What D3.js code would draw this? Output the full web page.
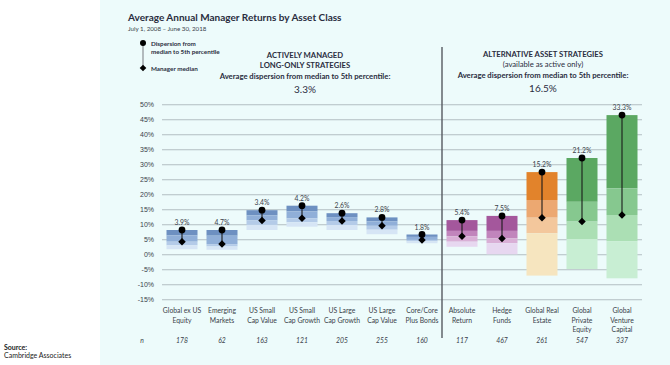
<!DOCTYPE html>
<html lang="en">
<head>
<meta charset="utf-8">
<title>Average Annual Manager Returns by Asset Class</title>
<script src="https://cdnjs.cloudflare.com/ajax/libs/d3/7.8.5/d3.min.js"></script>
<style>
  html, body { margin: 0; padding: 0; background: #ffffff; }
  svg { display: block; font-family: "Lato", sans-serif; }
  .tick text { font-size: 7px; fill: #3a3f4a; }
  .tick line { stroke: #b2bec2; stroke-width: 1.1; }
</style>
</head>
<body>
<div id="chart"></div>
<script>
// ---------------------------------------------------------------
// data (values in %)
// ---------------------------------------------------------------
const categories = [
  "Global ex US Equity", "Emerging Markets", "US Small Cap Value",
  "US Small Cap Growth", "US Large Cap Growth", "US Large Cap Value",
  "Core/Core Plus Bonds", "Absolute Return", "Hedge Funds",
  "Global Real Estate", "Global Private Equity", "Global Venture Capital"
];
const categoryLines = [
  ["Global ex US", "Equity"], ["Emerging", "Markets"], ["US Small", "Cap Value"],
  ["US Small", "Cap Growth"], ["US Large", "Cap Growth"], ["US Large", "Cap Value"],
  ["Core/Core", "Plus Bonds"], ["Absolute", "Return"], ["Hedge", "Funds"],
  ["Global Real", "Estate"], ["Global", "Private", "Equity"], ["Global", "Venture", "Capital"]
];
const groups = ["blue", "blue", "blue", "blue", "blue", "blue", "blue",
                "purple", "purple", "orange", "green", "green"];
const nCounts = [178, 62, 163, 121, 205, 255, 160, 117, 467, 261, 547, 337];

// dispersion from median to 5th percentile
const dispersion = [3.9, 4.7, 3.4, 4.2, 2.6, 2.8, 1.8, 5.4, 7.5, 15.2, 21.2, 33.3];
const pct5  = [8.1, 8.1, 14.7, 16.2, 13.7, 12.3, 6.6, 11.4, 12.8, 27.4, 32.1, 46.4];
const pct25 = [6.3, 6.2, 13.0, 14.3, 12.4, 11.0, 5.8, 7.8, 7.8, 18.1, 17.5, 22.0];
const median = [4.2, 3.4, 11.3, 12.0, 11.1, 9.5, 4.8, 6.0, 5.3, 12.2, 10.9, 13.1];
const pct75 = [3.0, 2.6, 9.8, 10.7, 9.7, 8.2, 4.3, 4.2, 3.7, 7.0, 5.1, 4.4];
const pct95 = [1.7, 1.5, 8.1, 9.2, 8.1, 6.7, 3.7, 2.5, 0.0, -7.1, -4.9, -8.0];

const yTicks = [-15, -10, -5, 0, 5, 10, 15, 20, 25, 30, 35, 40, 45, 50];

const palette = {
  blue:   ["#6d90c1", "#90afd8", "#b4cbe8", "#d6e5f5"],
  purple: ["#a4579c", "#c185bc", "#d9afd6", "#e7d7f0"],
  orange: ["#e2832b", "#eca871", "#f3c79c", "#f6e5bf"],
  green:  ["#5ba862", "#86c88f", "#abdfb4", "#c8eed3"]
};

// ---------------------------------------------------------------
// setup
// ---------------------------------------------------------------
const W = 670, H = 365;
const svg = d3.select("#chart").append("svg")
  .attr("width", W).attr("height", H);

// light panel behind the chart
svg.append("rect")
  .attr("x", 100).attr("y", 0)
  .attr("width", W - 100).attr("height", H)
  .attr("fill", "#edfbfb");

const x = d3.scaleBand()
  .domain(categories)
  .range([162, 642])
  .paddingInner(0.225)
  .paddingOuter(0.1125);

const y = d3.scaleLinear()
  .domain([-15, 50])
  .range([299.3, 104.3]);

// y axis + grid
const yAxis = svg.append("g")
  .attr("transform", "translate(162,0)")
  .call(d3.axisLeft(y)
    .tickValues(yTicks)
    .tickSize(-(642 - 162))
    .tickPadding(8)
    .tickFormat(d => d + "%"));
yAxis.select(".domain").remove();

// divider between the two groups
const divX = x(categories[7]) - (x.step() - x.bandwidth()) / 2;
svg.append("line")
  .attr("x1", divX).attr("x2", divX)
  .attr("y1", 47).attr("y2", 338)
  .attr("stroke", "#555a60").attr("stroke-width", 1.4);

// ---------------------------------------------------------------
// bars: stacked percentile segments
// ---------------------------------------------------------------
const bars = svg.append("g");
categories.forEach(function(c, i) {
  const bounds = [pct5[i], pct25[i], median[i], pct75[i], pct95[i]];
  const cols = palette[groups[i]];
  for (let k = 0; k < 4; k++) {
    bars.append("rect")
      .attr("x", x(c))
      .attr("width", x.bandwidth())
      .attr("y", y(bounds[k]))
      .attr("height", y(bounds[k + 1]) - y(bounds[k]))
      .attr("fill", cols[k]);
  }
});

// dispersion lines, dots and diamonds
const marks = svg.append("g");
categories.forEach(function(c, i) {
  const cx = x(c) + x.bandwidth() / 2;
  marks.append("line")
    .attr("x1", cx).attr("x2", cx)
    .attr("y1", y(pct5[i])).attr("y2", y(median[i]))
    .attr("stroke", "#1a1a1a").attr("stroke-width", 1.1);
  marks.append("circle")
    .attr("cx", cx).attr("cy", y(pct5[i])).attr("r", 3.4)
    .attr("fill", "#000");
  marks.append("path")
    .attr("d", d3.symbol().type(d3.symbolDiamond2).size(36))
    .attr("transform", "translate(" + cx + "," + y(median[i]) + ")")
    .attr("fill", "#000");
  marks.append("text")
    .attr("x", cx).attr("y", y(pct5[i]) - 5)
    .attr("text-anchor", "middle")
    .attr("font-size", "6.8px").attr("fill", "#3a3f4a")
    .text(dispersion[i].toFixed(1) + "%");
});

// category labels and n row
categories.forEach(function(c, i) {
  const cx = x(c) + x.bandwidth() / 2;
  const t = svg.append("text")
    .attr("text-anchor", "middle")
    .attr("font-size", "6.8px").attr("fill", "#3a3f4a");
  categoryLines[i].forEach(function(line, j) {
    t.append("tspan").attr("x", cx).attr("y", 313 + j * 9.5).text(line);
  });
  svg.append("text")
    .attr("x", cx).attr("y", 343)
    .attr("text-anchor", "middle")
    .attr("font-size", "6.8px").attr("font-style", "italic")
    .attr("fill", "#3a3f4a")
    .text(nCounts[i]);
});
svg.append("text")
  .attr("x", 142).attr("y", 343)
  .attr("text-anchor", "middle")
  .attr("font-size", "6.8px").attr("font-style", "italic")
  .attr("fill", "#3a3f4a")
  .text("n");

// ---------------------------------------------------------------
// titles and headers
// ---------------------------------------------------------------
svg.append("text")
  .attr("x", 128).attr("y", 21)
  .attr("font-size", "10px").attr("font-weight", 700)
  .attr("fill", "#2a2d3e")
  .text("Average Annual Manager Returns by Asset Class");
svg.append("text")
  .attr("x", 128).attr("y", 31)
  .attr("font-size", "6.2px").attr("fill", "#3a3f4a")
  .text("July 1, 2008 \u2013 June 30, 2018");

// legend
const lg = svg.append("g");
lg.append("line")
  .attr("x1", 143).attr("x2", 143).attr("y1", 43).attr("y2", 68)
  .attr("stroke", "#8a8f95").attr("stroke-width", 1.2);
lg.append("circle").attr("cx", 143).attr("cy", 43).attr("r", 3).attr("fill", "#000");
lg.append("path")
  .attr("d", d3.symbol().type(d3.symbolDiamond2).size(28))
  .attr("transform", "translate(143,68)").attr("fill", "#000");
[["Dispersion from", 45.5], ["median to 5th percentile", 53.5], ["Manager median", 70.5]]
  .forEach(function(d) {
    lg.append("text")
      .attr("x", 151).attr("y", d[1])
      .attr("font-size", "6.3px").attr("font-weight", 700)
      .attr("fill", "#2a2d3e")
      .text(d[0]);
  });

function header(cx, lines) {
  lines.forEach(function(l) {
    svg.append("text")
      .attr("x", cx).attr("y", l.y)
      .attr("text-anchor", "middle")
      .attr("font-size", l.size).attr("font-weight", l.weight)
      .attr("fill", "#2a2d3e")
      .text(l.text);
  });
}
header(305, [
  { text: "ACTIVELY MANAGED", y: 58, size: "7.7px", weight: 700 },
  { text: "LONG-ONLY STRATEGIES", y: 68, size: "7.7px", weight: 700 },
  { text: "Average dispersion from median to 5th percentile:", y: 79, size: "7.7px", weight: 700 },
  { text: "3.3%", y: 93, size: "10px", weight: 400 }
]);
header(543, [
  { text: "ALTERNATIVE ASSET STRATEGIES", y: 57, size: "7.7px", weight: 700 },
  { text: "(available as active only)", y: 67, size: "7.7px", weight: 400 },
  { text: "Average dispersion from median to 5th percentile:", y: 78, size: "7.7px", weight: 700 },
  { text: "16.5%", y: 92, size: "10px", weight: 400 }
]);

// source
svg.append("text")
  .attr("x", 4).attr("y", 350)
  .attr("font-size", "7px").attr("font-weight", 700).attr("fill", "#222")
  .text("Source:");
svg.append("text")
  .attr("x", 4).attr("y", 358)
  .attr("font-size", "7px").attr("fill", "#222")
  .text("Cambridge Associates");
</script>
</body>
</html>
